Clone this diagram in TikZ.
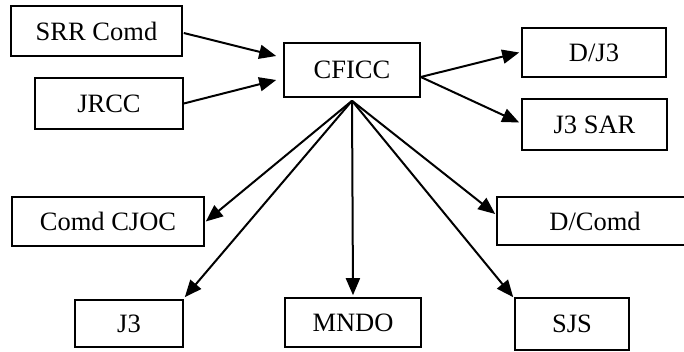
\documentclass[tikz,border=0pt]{standalone}
\usepackage{fontspec}
\setmainfont{Liberation Serif}
\usetikzlibrary{arrows.meta,calc}
\begin{document}
\begin{tikzpicture}[x=1pt,y=-1pt,
  box/.style={draw,line width=1.6pt,inner sep=0pt,font=\fontsize{26.5}{30}\selectfont},
  arr/.style={line width=2pt,-{Triangle[length=17pt,width=14pt]}}]
\useasboundingbox (0,0) rectangle (684,352);
\node[box,minimum width=171pt,minimum height=50pt] (srr) at (96.5,31) {SRR Comd};
\node[box,minimum width=148pt,minimum height=51pt] (jrcc) at (109,103.5) {JRCC};
\node[box,minimum width=136pt,minimum height=54pt] (cficc) at (352,70) {CFICC};
\node[box,minimum width=144pt,minimum height=49pt] (dj3) at (594,52.5) {D/J3};
\node[box,minimum width=145pt,minimum height=51pt] (j3sar) at (594.5,124.5) {J3 SAR};
\node[box,minimum width=192pt,minimum height=49pt] (cjoc) at (108,221.5) {Comd CJOC};
\node[box,minimum width=108pt,minimum height=47pt] (j3) at (129,323.5) {J3};
\node[box,minimum width=136pt,minimum height=49pt] (mndo) at (353,322.5) {MNDO};
\node[box,minimum width=196pt,minimum height=48pt] (dcomd) at (595,221) {D/Comd};
\node[box,minimum width=114pt,minimum height=52pt] (sjs) at (572,324) {SJS};
\coordinate (o) at ($(cficc.south)+(0,3)$);
\draw[arr] ($(srr.east)+(1,2)$) -- ($(cficc.west)+(-7,-14)$);
\draw[arr] (jrcc.east) -- ($(cficc.west)+(-7,10)$);
\draw[arr] ($(cficc.east)+(0,7)$) -- ($(dj3.west)+(-2,0)$);
\draw[arr] ($(cficc.east)+(0,7)$) -- ($(j3sar.west)+(-2,-2)$);
\draw[arr] (o) -- ($(cjoc.east)+(1,0)$);
\draw[arr] (o) -- ($(j3.north east)+(1,-2)$);
\draw[arr] (o) -- ($(mndo.north)+(0,-2)$);
\draw[arr] (o) -- ($(dcomd.west)+(-1,-7)$);
\draw[arr] (o) -- ($(sjs.north west)+(-1,0)$);
\end{tikzpicture}
\end{document}
